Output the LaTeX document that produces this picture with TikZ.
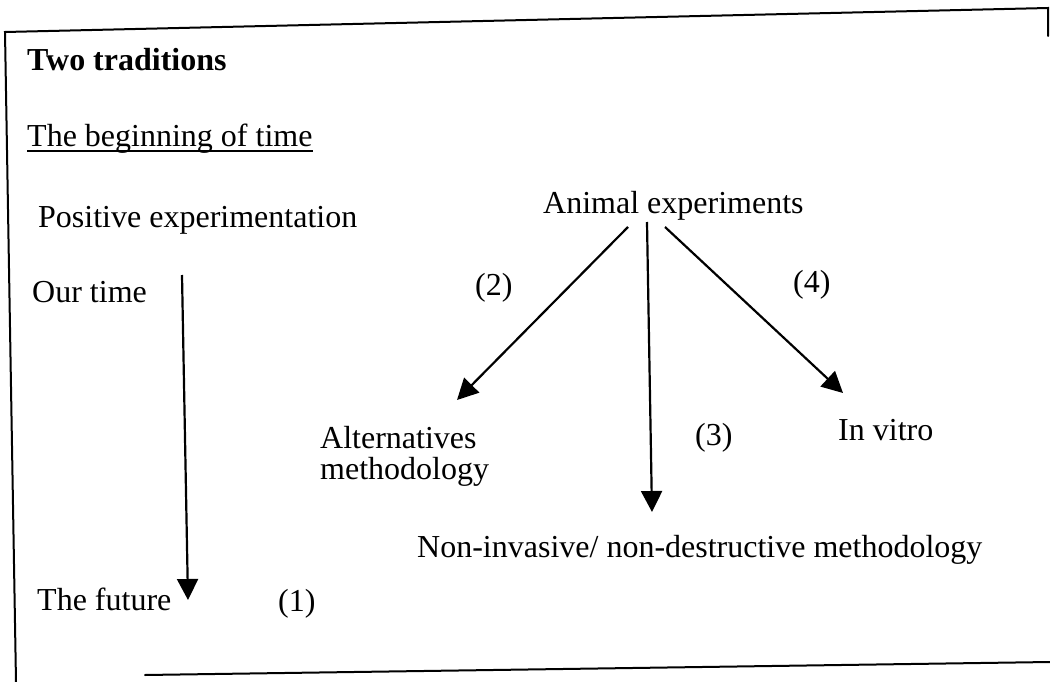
\documentclass[tikz,border=0pt]{standalone}
\usepackage{fontspec}
\setmainfont{Liberation Serif}
\usetikzlibrary{arrows.meta}
\begin{document}
\begin{tikzpicture}[x=1pt,y=-1pt,
  txt/.style={anchor=base west,inner sep=0pt,font=\fontsize{32}{31}\selectfont},
  frame/.style={line width=2pt,line cap=round},
  arr/.style={line width=2.2pt,-{Triangle[length=21pt,width=21pt]}}]
\useasboundingbox (0,0) rectangle (1050,682);
% frame (scanned, slightly tilted)
\coordinate (ftl) at (5,32);
\coordinate (ftr) at (1048,8);
\coordinate (ftrb) at (1048,36);
\coordinate (fbl) at (16,682);
\coordinate (fbs) at (145,675);
\coordinate (fbe) at (1050,662);
\draw[frame] (ftrb) -- (ftr) -- (ftl) -- (fbl);
\draw[frame] (fbs) -- (fbe);
% texts
\node[txt,font=\fontsize{32}{31}\selectfont\bfseries] (title) at (27,71) {Two traditions};
\node[txt] (begin) at (27,147) {The beginning of time};
\draw[line width=1.6pt] ([yshift=-4pt]begin.base west) -- ([yshift=-4pt]begin.base east);
\node[txt] (pos) at (38,227) {Positive experimentation};
\node[txt] (animal) at (543,213) {Animal experiments};
\node[txt] (our) at (32,302) {Our time};
\node[txt] (l2) at (475,295) {(2)};
\node[txt] (l4) at (793,292) {(4)};
\node[txt,align=left] (alt) at (320,479) {Alternatives\\methodology};
\node[txt] (l3) at (695,445) {(3)};
\node[txt] (vitro) at (838,440) {In vitro};
\node[txt] (noninv) at (417,557) {Non-invasive/ non-destructive methodology};
\node[txt] (future) at (37,610) {The future};
\node[txt] (l1) at (278,611) {(1)};
% arrows
\coordinate (ts) at (182,275);
\coordinate (te) at (188,600);
\coordinate (as2) at (628,227);
\coordinate (ae2) at (457,400);
\coordinate (as3) at (647,222);
\coordinate (ae3) at (652,512);
\coordinate (as4) at (665,227);
\coordinate (ae4) at (843,393);
\draw[arr] (ts) -- (te);
\draw[arr] (as2) -- (ae2);
\draw[arr] (as3) -- (ae3);
\draw[arr] (as4) -- (ae4);
\end{tikzpicture}
\end{document}
